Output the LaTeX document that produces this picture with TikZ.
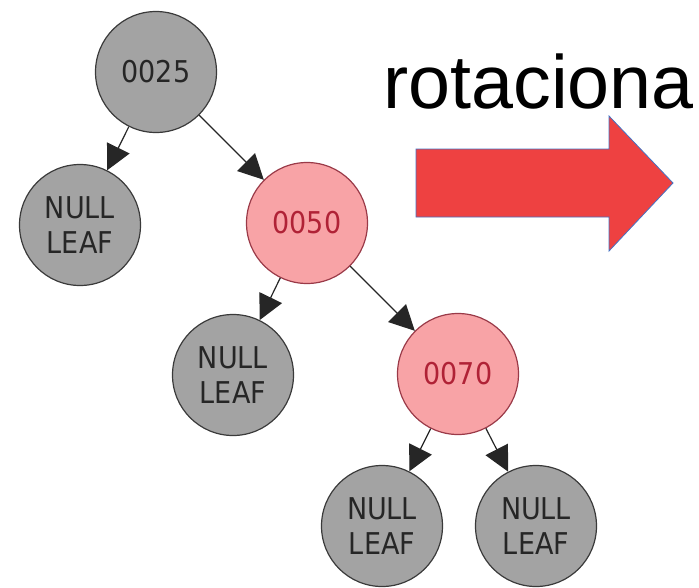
\documentclass[tikz,border=0pt]{standalone}
\usepackage{fontspec}
\setmainfont{Liberation Sans}
\newfontfamily\nodefont{DejaVu Sans Condensed}
\usetikzlibrary{arrows.meta}
\definecolor{grayfill}{HTML}{A3A3A3}
\definecolor{grayline}{HTML}{3A3A3A}
\definecolor{grayText}{HTML}{262626}
\definecolor{pinkfill}{HTML}{F8A3A6}
\definecolor{pinkline}{HTML}{9A3A48}
\definecolor{pinkText}{HTML}{B02236}
\definecolor{arrowred}{HTML}{EE4141}
\definecolor{arrowblue}{HTML}{4472C4}
\tikzset{
  treenode/.style={circle, minimum size=121pt, inner sep=0pt, line width=1.2pt,
    font=\nodefont\fontsize{30}{35}\selectfont, align=center},
  blacknode/.style={treenode, fill=grayfill, draw=grayline, text=grayText},
  rednode/.style={treenode, fill=pinkfill, draw=pinkline, text=pinkText},
  leafnode/.style={blacknode},
  edge/.style={draw=black!85, line width=1.2pt, -{Triangle[length=25pt,width=25pt]}}
}
\begin{document}
\begin{tikzpicture}[x=1pt,y=-1pt]
\useasboundingbox (0,0) rectangle (699,587);
\node[blacknode] (n25) at (156,72) {0025};
\node[leafnode] (l1) at (80,225) {NULL\\LEAF};
\node[rednode] (n50) at (307,223) {0050};
\node[leafnode] (l2) at (233,375) {NULL\\LEAF};
\node[rednode] (n70) at (458,374) {0070};
\node[leafnode] (l3) at (382,526) {NULL\\LEAF};
\node[leafnode] (l4) at (536,526) {NULL\\LEAF};
\draw[edge] (n25) -- (l1);
\draw[edge] (n25) -- (n50);
\draw[edge] (n50) -- (l2);
\draw[edge] (n50) -- (n70);
\draw[edge] (n70) -- (l3);
\draw[edge] (n70) -- (l4);
\node[anchor=base west, inner sep=0pt, font=\fontsize{75.5}{80}\selectfont] (lbl) at (383,108) {rotaciona};
\draw[fill=arrowred, draw=arrowblue, line width=0.8pt]
  (416,149) -- (609,149) -- (609,116) -- (673,183) -- (609,251) -- (609,217) -- (416,217) -- cycle;
\end{tikzpicture}
\end{document}
